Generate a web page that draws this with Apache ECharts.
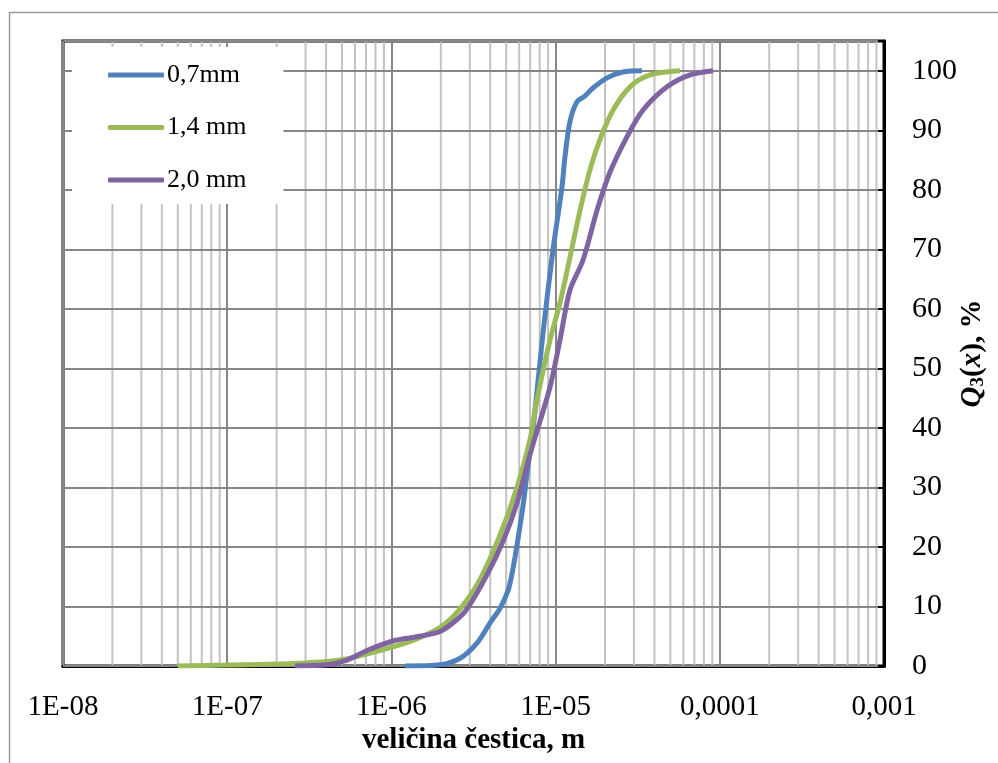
<!DOCTYPE html>
<html><head><meta charset="utf-8">
<script src="https://cdn.jsdelivr.net/npm/echarts@6/dist/echarts.min.js"></script>
<style>html,body{margin:0;padding:0;background:#fff}#c{width:998px;height:763px}</style>
</head><body><div id="c"></div>
<script>
// ---- data ----
const seriesNames = ['0,7mm', '1,4 mm', '2,0 mm'];
const size07 = [1.21e-6, 1.98e-6, 2.62e-6, 3.31e-6, 3.98e-6, 4.59e-6, 5.15e-6, 5.53e-6, 5.93e-6, 6.36e-6, 6.82e-6, 7.3e-6, 8.38e-6, 9.64e-6, 1.094e-5, 1.14e-5, 1.224e-5, 1.35e-5, 1.5e-5, 1.69e-5, 2.06e-5, 2.57e-5, 3.36e-5];
const q07    = [0, 0.2, 1.3, 3.8, 7.2, 9.7, 12.8, 16.7, 21.7, 27.3, 34, 40, 55.9, 69.9, 80.5, 85.5, 91.5, 94.8, 95.7, 97.1, 98.8, 99.8, 100];
const size14 = [5.0e-8, 1.0e-7, 2.52e-7, 4.86e-7, 8.5e-7, 1.35e-6, 1.98e-6, 2.62e-6, 3.46e-6, 4.59e-6, 5.82e-6, 6.98e-6, 7.7e-6, 9.25e-6, 1.064e-5, 1.224e-5, 1.41e-5, 1.62e-5, 1.86e-5, 2.24e-5, 2.84e-5, 3.76e-5, 5.72e-5];
const q14    = [0, 0.15, 0.4, 1.0, 2.6, 4.3, 6.5, 9.6, 14.5, 22, 30, 38, 44.7, 54.8, 61, 68.7, 76.6, 83.4, 88.4, 93.4, 97.3, 99.3, 100];
const size20 = [2.59e-7, 4.05e-7, 5.37e-7, 7.1e-7, 1.02e-6, 1.49e-6, 1.98e-6, 2.46e-6, 2.89e-6, 3.82e-6, 4.79e-6, 5.82e-6, 6.98e-6, 9.25e-6, 1.064e-5, 1.224e-5, 1.47e-5, 1.79e-5, 2.14e-5, 2.72e-5, 3.41e-5, 4.77e-5, 6.59e-5, 9.1e-5];
const q20    = [0, 0.2, 1.0, 2.6, 4.2, 5.0, 5.8, 7.6, 9.6, 15.3, 21, 27.4, 35.5, 46.9, 54.8, 63.2, 68.2, 76.6, 82.9, 88.9, 93.4, 97.3, 99.3, 100];
const xTickLabels = ['1E-08', '1E-07', '1E-06', '1E-05', '0,0001', '0,001'];
const xName = 'veličina čestica, m';
const colors = ['#4f81bd', '#9bbb59', '#8064a2'];

// ---- minor gridline positions (2..9 within each decade) ----
const decades = [1e-8, 1e-7, 1e-6, 1e-5, 1e-4];
const minorMult = [2, 3, 4, 5, 6, 7, 8, 9];
const yMin = 0, yMax = 105;
const minorGrid = [];
decades.forEach(d => minorMult.forEach(m => {
  const x = d * m;
  minorGrid.push([x, yMin], [x, yMax], [x, '-']);
}));

const zip = (xs, ys) => xs.map((x, i) => [x, ys[i]]);
const FONT = 'Liberation Serif';

const chart = echarts.init(document.getElementById('c'), null, { renderer: 'canvas' });
chart.setOption({
  animation: false,
  backgroundColor: '#fff',
  graphic: [{
    type: 'rect', silent: true, z: 0,
    shape: { x: 9.5, y: 12.5, width: 1100, height: 900 },
    style: { fill: 'none', stroke: '#9a9a9a', lineWidth: 1.5 }
  }],
  grid: { left: 63, right: 114, top: 41, bottom: 97, containLabel: false, outerBoundsMode: 'none',
          show: true, borderColor: '#000', borderWidth: 3, backgroundColor: 'transparent' },
  legend: {
    data: seriesNames, orient: 'vertical', left: 72, top: 47,
    padding: [15, 37, 11, 36], itemGap: 26.5, itemWidth: 56, itemHeight: 5,
    icon: 'roundRect', backgroundColor: '#fff',
    textStyle: { fontFamily: FONT, fontSize: 26, color: '#000', padding: [0, 0, 0, -2] }
  },
  xAxis: {
    type: 'log', logBase: 10, min: 1e-8, max: 1e-3,
    name: xName, nameLocation: 'middle', nameGap: 60, nameMoveOverlap: false,
    nameTextStyle: { fontFamily: FONT, fontSize: 29, fontWeight: 'bold', color: '#000' },
    axisLine: { show: true, lineStyle: { color: '#000', width: 3 } },
    axisTick: { show: false },
    axisLabel: {
      fontFamily: FONT, fontSize: 29, color: '#000', margin: 27,
      showMinLabel: true, showMaxLabel: true,
      formatter: v => xTickLabels[Math.round(Math.log10(v)) + 8] || ''
    },
    splitLine: { show: true, lineStyle: { color: '#878787', width: 2 } },
    minorTick: { show: false }, minorSplitLine: { show: false }
  },
  yAxis: {
    type: 'value', position: 'right', min: yMin, max: yMax, interval: 10, z: 1.5,
    name: '{q|Q}{s|3}{n|(}{q|x}{n|), %}', nameLocation: 'middle', nameRotate: 90, nameGap: 73,
    nameMoveOverlap: false,
    nameTextStyle: {
      color: '#000',
      rich: {
        q: { fontFamily: FONT, fontSize: 29, fontWeight: 'bold', fontStyle: 'italic', color: '#000' },
        s: { fontFamily: FONT, fontSize: 19, fontWeight: 'bold', color: '#000', padding: [12, 0, 0, 0] },
        n: { fontFamily: FONT, fontSize: 29, fontWeight: 'bold', color: '#000' }
      }
    },
    axisLine: { show: true, lineStyle: { color: '#000', width: 3 } },
    axisTick: { show: true, inside: true, length: 6, lineStyle: { color: '#000', width: 2 } },
    axisLabel: {
      fontFamily: FONT, fontSize: 30, color: '#000', margin: 28,
      formatter: v => (v <= 100 ? String(v) : '')
    },
    splitLine: { show: true, lineStyle: { color: '#878787', width: 2 } }
  },
  series: [
    {
      name: 'minorGrid', type: 'line', data: minorGrid, z: 1, silent: true,
      showSymbol: false, symbol: 'none', connectNulls: false,
      lineStyle: { color: '#c3c3c3', width: 2 }
    },
    { name: seriesNames[0], type: 'line', data: zip(size07, q07), showSymbol: false, symbol: 'none',
      smooth: 0.3, lineStyle: { color: colors[0], width: 5 }, itemStyle: { color: colors[0] } },
    { name: seriesNames[1], type: 'line', data: zip(size14, q14), showSymbol: false, symbol: 'none',
      smooth: 0.3, lineStyle: { color: colors[1], width: 5 }, itemStyle: { color: colors[1] } },
    { name: seriesNames[2], type: 'line', data: zip(size20, q20), showSymbol: false, symbol: 'none',
      smooth: 0.3, lineStyle: { color: colors[2], width: 5 }, itemStyle: { color: colors[2] } }
  ]
});
</script>
</body></html>
